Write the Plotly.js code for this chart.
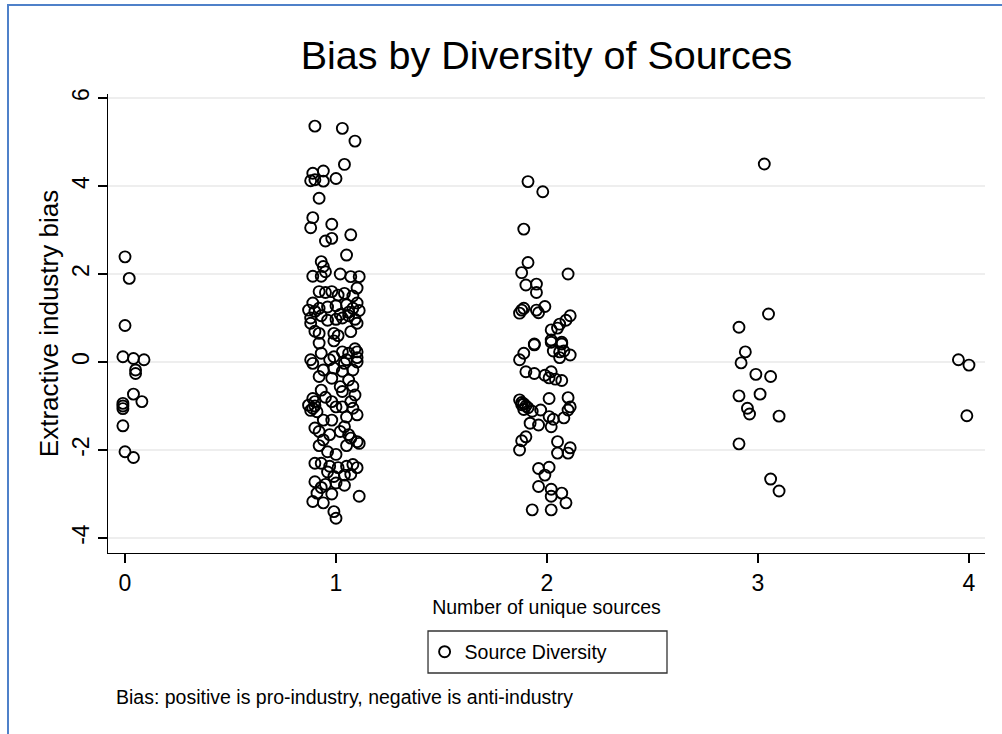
<!DOCTYPE html>
<html>
<head>
<meta charset="utf-8">
<script src="https://cdn.plot.ly/plotly-3.0.1.min.js"></script>
<style>
  html, body { margin: 0; padding: 0; background: #fff; }
  #wrap { position: relative; width: 1002px; height: 734px; }
  #chart { position: absolute; left: 0; top: 0; width: 1002px; height: 734px; }
  #frame { position: absolute; left: 7px; top: 4px; width: 1000px; height: 740px;
           border-left: 2px solid #4f81c9; border-top: 2px solid #4f81c9; pointer-events: none; }
</style>
</head>
<body>
<div id="wrap"><div id="chart"></div><div id="frame"></div></div>
<script>
// Number of unique sources (jittered) and bias values, per group
const x0 = [0.00, 0.02, 0.00, -0.01, 0.04, 0.09, 0.05, 0.05, 0.04, 0.08, -0.01, -0.01, -0.01, -0.01, 0.00, 0.04];
const y0 = [2.39, 1.90, 0.83, 0.12, 0.08, 0.05, -0.18, -0.26, -0.73, -0.90, -0.94, -1.00, -1.06, -1.45, -2.04, -2.17];

const x1 = [0.90, 1.03, 1.09, 1.04, 0.89, 0.94, 0.88, 0.90, 0.94, 1.00, 0.92, 0.89, 0.88, 0.98, 0.95, 0.98, 1.07, 1.05, 0.93, 0.94, 0.95, 0.89, 0.93, 1.02, 1.07, 1.11, 0.98, 0.95, 1.01, 1.04, 1.10, 0.89, 0.87, 0.90, 0.93, 0.88, 1.10, 1.11, 1.06, 1.03, 1.09, 1.00,
            0.96, 1.00, 1.05, 0.92, 1.08,
            0.88, 0.92, 0.99, 1.01, 1.07, 1.10, 0.92, 0.99, 0.88, 0.89, 0.99, 1.03, 1.06, 1.10, 1.10, 1.04, 0.94, 0.99, 1.03, 1.08, 0.92, 0.98, 1.06, 0.93, 1.02, 1.03, 1.09, 0.89, 0.95, 0.87, 0.89, 0.91, 1.00, 1.03, 1.08, 1.07, 0.94, 0.98, 1.04, 0.92, 1.02, 1.06, 1.07, 1.10, 1.11, 0.94, 0.96, 1.00, 0.90, 0.93, 0.97, 1.01, 1.05, 1.08, 1.04, 0.99, 0.90, 0.95, 1.00, 0.91, 1.11, 0.89, 0.94, 0.99, 1.00,
            0.90, 0.88, 0.90, 1.10, 1.09, 1.05, 0.97, 0.93, 1.06, 1.02, 0.96, 0.90, 1.08, 1.10, 0.97, 1.05, 0.92, 1.07, 0.96, 0.93, 1.04, 0.98, 1.10, 0.98, 1.05, 0.90, 1.08, 0.92];
const y1 = [5.36, 5.31, 5.02, 4.49, 4.29, 4.34, 4.12, 4.14, 4.11, 4.17, 3.72, 3.28, 3.05, 3.13, 2.75, 2.81, 2.89, 2.43, 2.28, 2.17, 2.05, 1.95, 1.95, 2.00, 1.94, 1.94, 1.60, 1.58, 1.52, 1.56, 1.68, 1.34, 1.18, 1.15, 1.05, 1.00, 1.34, 1.17, 1.13, 1.00, 0.97, 0.97,
            1.25, 1.28, 1.30, 1.22, 1.22,
            0.88, 0.65, 0.65, 0.60, 0.69, 0.88, 0.43, 0.48, 0.05, -0.03, 0.12, 0.23, 0.20, 0.23, 0.00, -0.03, -0.18, -0.14, -0.21, -0.18, -0.33, -0.37, -0.41, -0.64, -0.56, -0.67, -0.75, -0.83, -0.80, -0.98, -1.05, -1.13, -1.02, -1.02, -1.05, -0.90, -1.32, -1.32, -1.47, -1.58, -1.58, -1.65, -1.73, -1.81, -1.85, -1.77, -2.04, -2.10, -2.30, -2.30, -2.37, -2.40, -2.37, -2.33, -2.57, -2.60, -2.72, -2.78, -2.75, -2.98, -3.05, -3.17, -3.20, -3.40, -3.55,
            -0.90, -1.10, -1.00, 0.10, 0.30, 0.05, 0.05, 0.20, 1.05, 1.08, 0.95, 0.70, -0.55, -1.20, -1.65, -1.90, -1.90, -2.55, -2.50, -2.85, -2.80, -3.00, -2.40, -0.90, -1.25, -1.50, 1.50, 1.60];

const x2 = [1.91, 1.98, 1.89, 1.91, 1.88, 2.10, 1.90, 1.95, 1.95, 1.88, 1.89, 1.87, 1.95, 1.96, 1.99, 2.11, 2.09, 2.06, 2.05, 2.02, 1.94, 2.02, 2.07,
            1.94, 2.02, 2.07, 1.89, 1.87, 2.03, 2.06, 2.08, 2.11, 2.06, 1.90, 1.94, 1.99, 2.02, 2.01, 2.04, 2.07, 2.01, 2.10, 2.11, 1.87, 1.88, 1.89, 1.90, 1.97, 2.10, 2.01, 2.03, 2.08, 1.92, 1.96, 2.02, 1.90, 1.88, 1.87, 2.05, 2.05, 2.11, 2.10, 1.96, 2.01, 1.99, 1.96, 2.02, 2.07, 2.02, 2.09, 1.93, 2.02,
            1.88, 1.89, 1.91, 1.93];
const y2 = [4.10, 3.87, 3.02, 2.26, 2.03, 2.00, 1.75, 1.77, 1.58, 1.18, 1.22, 1.11, 1.18, 1.12, 1.26, 1.05, 0.95, 0.86, 0.77, 0.73, 0.41, 0.45, 0.41,
            0.39, 0.50, 0.45, 0.20, 0.05, 0.25, 0.23, 0.25, 0.16, 0.10, -0.22, -0.26, -0.30, -0.22, -0.36, -0.39, -0.42, -0.83, -0.81, -1.02, -0.86, -0.97, -1.08, -1.00, -1.09, -1.09, -1.24, -1.30, -1.27, -1.39, -1.43, -1.47, -1.70, -1.79, -2.00, -1.81, -2.07, -1.95, -2.07, -2.42, -2.39, -2.57, -2.83, -2.89, -2.98, -3.05, -3.20, -3.36, -3.36,
            -0.92, -0.95, -1.04, -1.12];

const x3 = [3.03, 3.05, 2.91, 2.94, 2.92, 2.99, 3.06, 2.91, 3.01, 2.95, 2.96, 3.10, 2.91, 3.06, 3.10];
const y3 = [4.50, 1.09, 0.79, 0.23, -0.02, -0.28, -0.33, -0.77, -0.73, -1.05, -1.18, -1.23, -1.86, -2.66, -2.93];

const x4 = [3.95, 4.00, 3.99];
const y4 = [0.05, -0.07, -1.22];

const xTicks = [0, 1, 2, 3, 4];
const yTicks = [-4, -2, 0, 2, 4, 6];

const FONT = '"Liberation Sans", Arial, Helvetica, sans-serif';

const trace = {
  type: 'scatter',
  mode: 'markers',
  name: 'Source Diversity',
  x: [].concat(x0, x1, x2, x3, x4),
  y: [].concat(y0, y1, y2, y3, y4),
  marker: { symbol: 'circle-open', size: 11, color: '#000', line: { width: 1.9, color: '#000' } },
  showlegend: true
};

const layout = {
  width: 1002, height: 734,
  margin: { l: 108, r: 17, t: 94, b: 181 },
  paper_bgcolor: '#fff', plot_bgcolor: '#fff',
  font: { family: FONT, color: '#000' },
  title: { text: 'Bias by Diversity of Sources', font: { size: 39.5, family: FONT, color: '#000' },
           x: 0.5, xref: 'paper', y: 1 - 55 / 734, yref: 'container', yanchor: 'middle' },
  xaxis: {
    range: [-0.0806, 4.076], tickvals: xTicks, ticktext: xTicks.map(String),
    showgrid: false, zeroline: false, showline: true, linecolor: '#000', linewidth: 1.3,
    ticks: 'outside', ticklen: 9, tickwidth: 1.3, tickcolor: '#000',
    tickfont: { size: 23, family: FONT },
    title: { text: 'Number of unique sources', font: { size: 19.5, family: FONT }, standoff: 5 }
  },
  yaxis: {
    range: [-4.34, 6.09], tickvals: yTicks, ticktext: yTicks.map(String),
    showgrid: true, gridcolor: '#eeeeee', gridwidth: 1.5, zeroline: false,
    showline: true, linecolor: '#000', linewidth: 1.3,
    ticks: 'outside', ticklen: 9, tickwidth: 1.3, tickcolor: '#000',
    tickangle: -90, tickfont: { size: 23, family: FONT },
    title: { text: 'Extractive industry bias', font: { size: 26, family: FONT }, standoff: 1 }
  },
  legend: { x: 0.361, xanchor: 'left', y: -0.2157, yanchor: 'middle', bgcolor: 'rgba(0,0,0,0)',
            borderwidth: 0, font: { size: 19.5, family: FONT } },
  shapes: [{ type: 'rect', xref: 'paper', yref: 'paper', x0: 0.3649, x1: 0.6374, y0: -0.1699, y1: -0.2614,
             line: { color: '#333', width: 1.3 }, fillcolor: 'rgba(0,0,0,0)' }],
  annotations: [{ xref: 'paper', yref: 'paper', x: 0.0068, y: -0.3137, xanchor: 'left', yanchor: 'middle',
                  showarrow: false, text: 'Bias: positive is pro-industry, negative is anti-industry',
                  font: { size: 19.5, family: FONT, color: '#000' } }]
};

Plotly.newPlot('chart', [trace], layout, { displayModeBar: false, staticPlot: true });
</script>
</body>
</html>
